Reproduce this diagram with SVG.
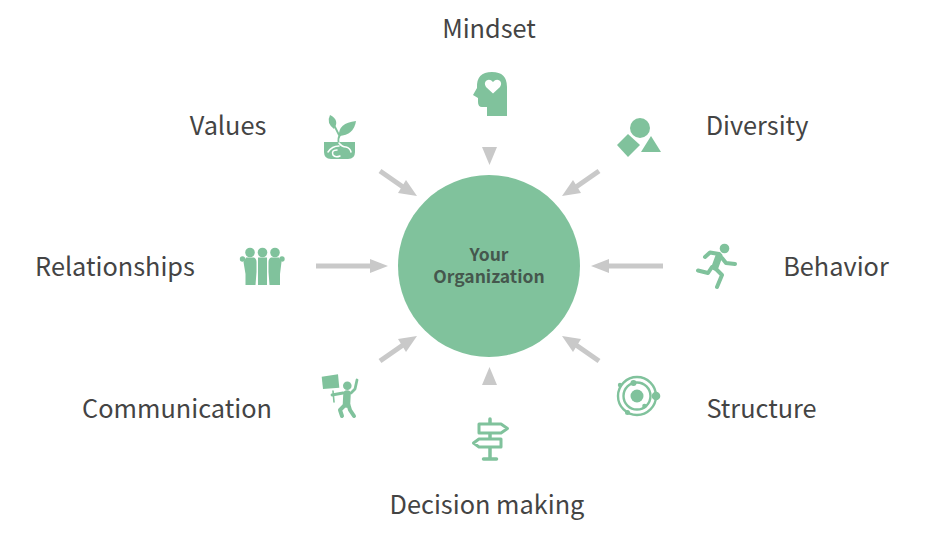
<svg xmlns="http://www.w3.org/2000/svg" width="945" height="541" viewBox="0 0 945 541">
<style>
text{font-family:"Noto Sans CJK SC","Noto Sans",sans-serif;fill:#444;text-anchor:middle}
.l{font-size:25.300px}
.c{font-size:17.500px;font-weight:700;fill:#45574d}
.g{fill:#80c29c}
.gs{fill:none;stroke:#80c29c;stroke-linecap:round;stroke-linejoin:round}
.w{fill:none;stroke:#fff;stroke-linecap:round;stroke-linejoin:round}
.sh{stroke:#c9c9c9;stroke-width:5;fill:none}
.hd{fill:#c9c9c9}
</style>
<rect width="945" height="541" fill="#fff"/>
<g id="connectors">
<path class="hd" d="M482 147H497L489.500 165Z"/>
<path class="hd" d="M482 385H497L489.500 367Z"/>
<path class="sh" d="M380 171L403 187"/><path class="hd" d="M417 196L398 193L406 180Z"/>
<path class="sh" d="M599 171L576 187"/><path class="hd" d="M562 196L581 193L573 180Z"/>
<path class="sh" d="M316 266H372"/><path class="hd" d="M388 266L370 259V273Z"/>
<path class="sh" d="M663 266H607"/><path class="hd" d="M591 266L609 259V273Z"/>
<path class="sh" d="M380 361L403 345"/><path class="hd" d="M417 336L398 339L406 352Z"/>
<path class="sh" d="M599 361L576 345"/><path class="hd" d="M562 336L581 339L573 352Z"/>
</g>
<g id="center"><circle class="g" cx="489" cy="266" r="91"/><text class="c" x="489" y="261">Your</text><text class="c" x="489" y="283">Organization</text></g>
<g id="mindset"><text class="l" x="489" y="38">Mindset</text>
<path class="g" d="M487 116V107H482Q478 107 478 102V98L473 95L477 88Q476 72 492 72Q507 72 507 87V116Z"/>
<path fill="#fff" d="M493 93.500L486 87Q483.500 83 486.500 80.500Q490 78.500 493 82Q496 78.500 499.500 80.500Q502.500 83 500 87Z"/></g>
<g id="values"><text class="l" x="228" y="135">Values</text>
<path class="g" d="M334 129Q326 123 330 115Q340 120 334 129Z"/>
<path class="g" d="M339 136Q338 123 356 121Q354 135 339 136Z"/>
<path class="gs" stroke-width="1.800" d="M335 127L339 135M341 134Q337 138 339 144"/>
<path class="g" d="M324 142H355V152Q355 159 348 159H331Q324 159 324 152Z"/>
<path class="w" stroke-width="1.500" d="M339 143Q342 147 346 147Q350 148 351 152M339 146Q332 146 328 152M337 150Q331 150 333 155Q335 158 340 156"/></g>
<g id="diversity"><text class="l" x="757" y="135">Diversity</text>
<circle class="g" cx="640" cy="128" r="10"/>
<path class="g" d="M628 134L640 145L628 157L617 145Z"/>
<path class="g" d="M651 136L661 152H641Z"/></g>
<g id="relationships"><text class="l" x="115" y="275.500">Relationships</text>
<g class="g"><circle cx="250" cy="252.500" r="4.800"/><circle cx="262.500" cy="252.500" r="4.800"/><circle cx="275" cy="252.500" r="4.800"/><circle cx="242.500" cy="259" r="2.700"/><circle cx="282" cy="259" r="2.700"/>
<path d="M246 257.500H254Q256.500 258.500 256.500 262V272L255.500 285H245.500V274L243.500 262Z"/><path d="M258 257.500H267V285H258Z"/><path d="M271 257.500H279L281.500 262L280 274V285H269.500L268.500 272V262Q268.500 258.500 271 257.500Z"/></g></g>
<g id="behavior"><text class="l" x="836" y="275.500">Behavior</text>
<circle class="g" cx="724.500" cy="248.500" r="4.800"/>
<path class="gs" stroke-width="4" d="M705 257L710 252.500L719 254M722 258L726 263L735 264M712 267L708 273L698 270.500M715 268L722 275L717 287"/>
<path class="gs" stroke-width="7" d="M719 256L715 267"/></g>
<g id="communication"><text class="l" x="177" y="417.500">Communication</text>
<path class="g" d="M321.700 376.700L338 374.300L339.300 387.700L323 389Z"/>
<path class="gs" stroke-width="1.600" d="M333 391L334 402"/>
<path class="gs" stroke-width="2.800" d="M332 395L343 393M351 393L355 389L357 380"/>
<circle class="g" cx="347.300" cy="385.700" r="4.300"/>
<path class="gs" stroke-width="7.500" d="M347 394L346.500 404"/>
<path class="gs" stroke-width="4" d="M345 405L340 410L342 416M348.500 405L350 410L354 416"/></g>
<g id="decision"><text class="l" x="487" y="513.500">Decision making</text>
<path class="gs" stroke-width="3" d="M479 424H501L507.500 428.500L501 433H479Z"/>
<path class="gs" stroke-width="3" d="M501 439H479L473.500 443L479 447H501Z"/>
<path class="gs" stroke-width="3.500" d="M490 419V423M490 434V438M490 448V458"/>
<path class="gs" stroke-width="3.500" d="M483.500 459H496.500"/></g>
<g id="structure"><text class="l" x="761.500" y="417.500">Structure</text>
<circle class="gs" cx="637" cy="396" r="19" stroke-width="2.400"/>
<circle class="gs" cx="637" cy="396" r="13.500" stroke-width="2.400"/>
<circle class="g" cx="637" cy="396" r="6.500"/>
<circle class="g" cx="656" cy="396" r="4.300"/><circle class="g" cx="633.500" cy="383" r="3"/><circle class="g" cx="627.500" cy="412.500" r="2.500"/><circle class="g" cx="620" cy="385" r="2.200"/><circle class="g" cx="644.500" cy="406" r="2.300"/></g>
</svg>
